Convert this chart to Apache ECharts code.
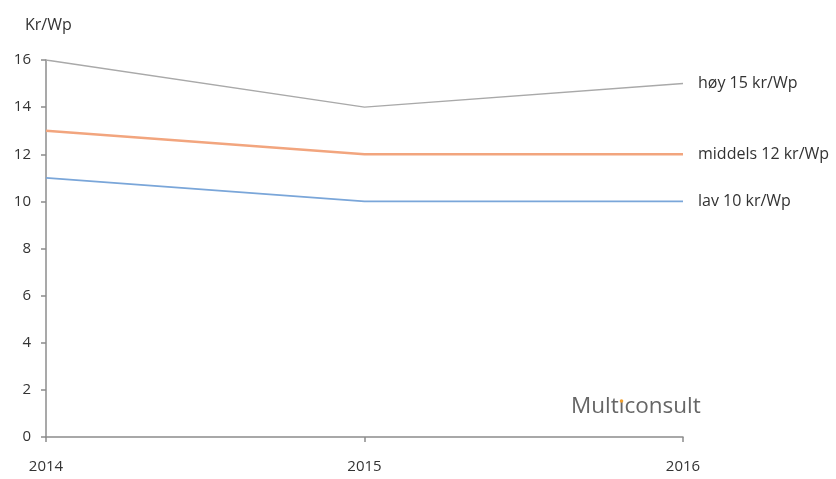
<!DOCTYPE html>
<html><head><meta charset="utf-8">
<script src="https://cdn.jsdelivr.net/npm/echarts@6/dist/echarts.min.js"></script>
<style>html,body{margin:0;padding:0;background:#fff}#c{width:836px;height:479px}</style>
</head><body><div id="c"></div>
<script>
const years = ['2014', '2015', '2016'];
const hoy = [16, 14, 15];
const middels = [13, 12, 12];
const lav = [11, 10, 10];
const seriesNames = ['høy 15 kr/Wp', 'middels 12 kr/Wp', 'lav 10 kr/Wp'];
const yTicks = [0, 2, 4, 6, 8, 10, 12, 14, 16];

const font = 'Open Sans';
const fs = 15;
const chart = echarts.init(document.getElementById('c'));
function mk(name, data, color, width) {
  return {
    name, type: 'line', data, symbol: 'none', silent: true,
    lineStyle: { color, width },
    endLabel: { show: true, formatter: name, color: '#333', fontFamily: font, fontSize: 16, distance: 15 }
  };
}
chart.setOption({
  animation: false,
  grid: { left: 46, right: 153, top: 60, bottom: 42 },
  title: { text: 'Kr/Wp', left: 20, top: 12, textStyle: { fontFamily: font, fontSize: 16, fontWeight: 'normal', color: '#333' } },
  xAxis: {
    type: 'category', data: years, boundaryGap: false,
    axisLine: { lineStyle: { color: '#8c8c8c', width: 1.5 } },
    axisTick: { show: true, length: 5, alignWithLabel: true, lineStyle: { color: '#8c8c8c', width: 1.5 } },
    axisLabel: { color: '#333', fontFamily: font, fontSize: fs, margin: 22 }
  },
  yAxis: {
    type: 'value', min: yTicks[0], max: yTicks[yTicks.length - 1], interval: 2,
    axisLine: { show: true, lineStyle: { color: '#8c8c8c', width: 1.5 } },
    axisTick: { show: true, length: 5, lineStyle: { color: '#8c8c8c', width: 1.5 } },
    splitLine: { show: false },
    axisLabel: { color: '#333', fontFamily: font, fontSize: fs, margin: 15 }
  },
  graphic: [{
    type: 'text', left: 571, top: 395,
    style: { text: 'Multıconsult', fill: '#666', font: '500 22.5px "Open Sans"' }
  }, {
    type: 'circle', shape: { cx: 621.5, cy: 401, r: 1.8 }, style: { fill: '#f0a030' }
  }],
  series: [
    mk(seriesNames[0], hoy, '#a9a9a9', 1.5),
    mk(seriesNames[1], middels, '#f2a57e', 2.5),
    mk(seriesNames[2], lav, '#7aa6d9', 1.8)
  ]
});
</script></body></html>
